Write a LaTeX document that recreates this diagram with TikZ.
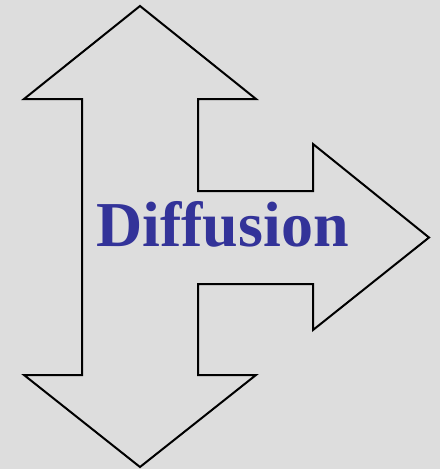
\documentclass[tikz,border=0pt]{standalone}
\usepackage{fontspec}
\setmainfont{Liberation Serif}
\definecolor{bg}{HTML}{DDDDDD}
\definecolor{txt}{HTML}{333399}
\begin{document}
\begin{tikzpicture}[x=1pt,y=-1pt,
  arrowshape/.style={draw=black,line width=2pt,line join=miter,fill=bg},
  label/.style={text=txt,font=\bfseries\fontsize{64}{70}\selectfont,inner sep=0pt,anchor=base}]
\fill[bg] (0,0) rectangle (440,469);
\useasboundingbox (0,0) rectangle (440,469);
\draw[arrowshape] (140,6) -- (256,99) -- (198,99) -- (198,191) -- (313,191) -- (313,144)
  -- (429,237.5) -- (313,330) -- (313,284) -- (198,284) -- (198,375) -- (256,375)
  -- (140,467) -- (24,375) -- (82,375) -- (82,99) -- (24,99) -- cycle;
\node[label] (t) at (222.5,246) {Diffusion};
\end{tikzpicture}
\end{document}
